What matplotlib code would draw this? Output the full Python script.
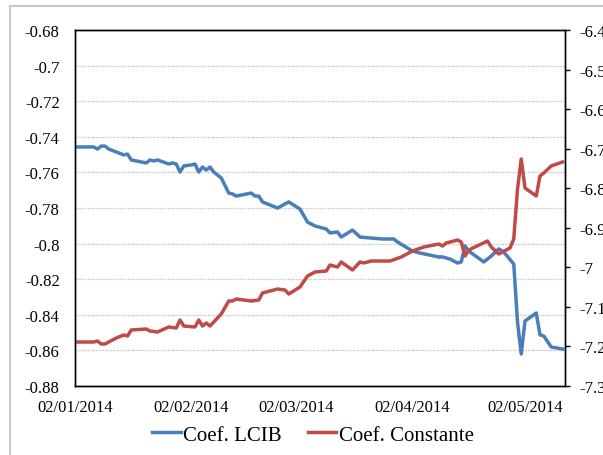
"""Rolling coefficients: LCIB slope (left axis) vs. constant term (right axis)."""
from __future__ import annotations

import numpy as np
import pandas as pd
import matplotlib
matplotlib.use("Agg")
import matplotlib.pyplot as plt  # noqa: E402
import matplotlib.dates as mdates  # noqa: E402
from matplotlib.patches import Rectangle  # noqa: E402
from matplotlib.ticker import MultipleLocator, FuncFormatter  # noqa: E402

# --- LCIB coefficient (left axis) ---
LCIB_DATES = [
    "2014-01-02", "2014-01-07", "2014-01-08", "2014-01-09", "2014-01-10", "2014-01-11",
    "2014-01-13", "2014-01-15", "2014-01-16", "2014-01-17", "2014-01-21", "2014-01-22",
    "2014-01-23", "2014-01-24", "2014-01-27", "2014-01-28", "2014-01-29", "2014-01-30",
    "2014-01-31", "2014-02-02", "2014-02-03", "2014-02-04", "2014-02-05", "2014-02-06",
    "2014-02-07", "2014-02-08", "2014-02-10", "2014-02-12", "2014-02-13", "2014-02-14",
    "2014-02-18", "2014-02-19", "2014-02-20", "2014-02-21", "2014-02-25", "2014-02-26",
    "2014-02-28", "2014-03-03", "2014-03-05", "2014-03-07", "2014-03-10", "2014-03-11",
    "2014-03-13", "2014-03-14", "2014-03-17", "2014-03-19", "2014-03-22", "2014-03-25",
    "2014-03-28", "2014-03-29", "2014-04-02", "2014-04-04", "2014-04-09", "2014-04-10",
    "2014-04-12", "2014-04-14", "2014-04-15", "2014-04-16", "2014-04-17", "2014-04-21",
    "2014-04-23", "2014-04-25", "2014-04-26", "2014-04-27", "2014-04-29", "2014-04-30",
    "2014-05-01", "2014-05-02", "2014-05-05", "2014-05-06", "2014-05-07", "2014-05-09",
    "2014-05-12",
]
LCIB_VALUES = [
    -0.7457, -0.7457, -0.7469, -0.7452, -0.7452, -0.7469,
    -0.7485, -0.7502, -0.7497, -0.7530, -0.7547, -0.7530,
    -0.7536, -0.7530, -0.7553, -0.7547, -0.7553, -0.7598,
    -0.7564, -0.7558, -0.7553, -0.7598, -0.7570, -0.7587,
    -0.7570, -0.7598, -0.7631, -0.7716, -0.7721, -0.7733,
    -0.7716, -0.7733, -0.7733, -0.7766, -0.7800, -0.7789,
    -0.7766, -0.7806, -0.7879, -0.7901, -0.7918, -0.7940,
    -0.7935, -0.7963, -0.7924, -0.7963, -0.7969, -0.7974,
    -0.7974, -0.7991, -0.8042, -0.8053, -0.8075, -0.8075,
    -0.8087, -0.8109, -0.8103, -0.8013, -0.8042, -0.8103,
    -0.8070, -0.8030, -0.8042, -0.8064, -0.8115, -0.8440,
    -0.8620, -0.8435, -0.8390, -0.8513, -0.8519, -0.8581,
    -0.8592,
]

# --- constant term (right axis) ---
CONST_DATES = [
    "2014-01-02", "2014-01-07", "2014-01-08", "2014-01-09", "2014-01-10", "2014-01-11",
    "2014-01-13", "2014-01-15", "2014-01-16", "2014-01-17", "2014-01-21", "2014-01-22",
    "2014-01-24", "2014-01-27", "2014-01-29", "2014-01-30", "2014-01-31", "2014-02-03",
    "2014-02-04", "2014-02-05", "2014-02-06", "2014-02-07", "2014-02-10", "2014-02-12",
    "2014-02-13", "2014-02-14", "2014-02-18", "2014-02-20", "2014-02-21", "2014-02-25",
    "2014-02-27", "2014-02-28", "2014-03-03", "2014-03-05", "2014-03-07", "2014-03-10",
    "2014-03-11", "2014-03-13", "2014-03-14", "2014-03-17", "2014-03-19", "2014-03-20",
    "2014-03-22", "2014-03-24", "2014-03-27", "2014-03-30", "2014-04-02", "2014-04-05",
    "2014-04-09", "2014-04-10", "2014-04-11", "2014-04-14", "2014-04-15", "2014-04-16",
    "2014-04-17", "2014-04-22", "2014-04-23", "2014-04-25", "2014-04-28", "2014-04-29",
    "2014-04-30", "2014-05-01", "2014-05-02", "2014-05-05", "2014-05-06", "2014-05-07",
    "2014-05-09", "2014-05-12",
]
CONST_VALUES = [
    -7.1888, -7.1888, -7.1862, -7.1938, -7.1938, -7.1888,
    -7.1787, -7.1711, -7.1736, -7.1584, -7.1559, -7.1610,
    -7.1635, -7.1508, -7.1534, -7.1331, -7.1483, -7.1508,
    -7.1331, -7.1483, -7.1407, -7.1483, -7.1180, -7.0851,
    -7.0851, -7.0801, -7.0851, -7.0826, -7.0649, -7.0548,
    -7.0573, -7.0674, -7.0497, -7.0219, -7.0118, -7.0093,
    -6.9941, -6.9992, -6.9865, -7.0067, -6.9865, -6.9890,
    -6.9840, -6.9840, -6.9840, -6.9739, -6.9587, -6.9486,
    -6.9410, -6.9461, -6.9385, -6.9309, -6.9360, -6.9714,
    -6.9562, -6.9334, -6.9486, -6.9663, -6.9511, -6.9284,
    -6.8020, -6.7261, -6.7994, -6.8197, -6.7691, -6.7615,
    -6.7438, -6.7337,
]

MONTH_TICKS = ["2014-01-02", "2014-02-02", "2014-03-02", "2014-04-02", "2014-05-02"]

BLUE = "#4a7ebb"
RED = "#be4b48"
W, H = 603, 456


def plain_num(v, _pos):
    return f"{v:g}"


def main() -> None:
    plt.rcParams["font.family"] = ["Liberation Serif", "DejaVu Serif"]
    fig = plt.figure(figsize=(W / 100, H / 100), dpi=100)

    # outer chart-area frame (runs off the right and bottom edges)
    fig.patches.append(Rectangle((10 / W, -0.2), 1.2, 1 - 7 / H + 0.2,
                                 transform=fig.transFigure, fill=False,
                                 edgecolor="#c8c8c8", lw=1.5, zorder=0))

    ax = fig.add_axes([75 / W, 1 - 387 / H, 490 / W, 356 / H])
    ax2 = ax.twinx()

    d_lcib = pd.to_datetime(LCIB_DATES)
    d_const = pd.to_datetime(CONST_DATES)
    l1, = ax.plot(d_lcib, LCIB_VALUES, color=BLUE, lw=2.5, label="Coef. LCIB",
                  solid_joinstyle="round")
    l2, = ax2.plot(d_const, CONST_VALUES, color=RED, lw=2.5, label="Coef. Constante",
                   solid_joinstyle="round")

    ax.set_xlim(pd.Timestamp("2014-01-02"), pd.Timestamp("2014-05-12 16:00"))
    ax.set_ylim(-0.88, -0.68)
    ax.yaxis.set_major_locator(MultipleLocator(0.02))
    ax.yaxis.set_major_formatter(FuncFormatter(plain_num))
    ax2.set_ylim(-7.3, -6.4)
    ax2.yaxis.set_major_locator(MultipleLocator(0.1))
    ax2.yaxis.set_major_formatter(FuncFormatter(plain_num))

    ax.set_xticks(pd.to_datetime(MONTH_TICKS))
    ax.xaxis.set_major_formatter(mdates.DateFormatter("%d/%m/%Y"))

    ax.grid(axis="y", color="#bfbfbf", lw=0.9, ls=(0, (1, 1)))
    ax.set_axisbelow(True)
    ax.tick_params(axis="y", length=0, labelsize=12, pad=11)
    ax.tick_params(axis="x", length=0, labelsize=12, pad=9)
    ax2.tick_params(axis="y", length=3.5, width=1, labelsize=12, pad=7, direction="out")

    for a in (ax, ax2):
        for s in a.spines.values():
            s.set_color("black")
            s.set_linewidth(1.0)

    fig.legend(handles=[l1, l2], loc="center", bbox_to_anchor=(313 / W, 1 - 436 / H),
               ncol=2, frameon=False, fontsize=15, handlelength=1.35,
               handletextpad=0.1, columnspacing=1.3, borderpad=0)

    fig.savefig("out.png", dpi=100)
    plt.close(fig)


if __name__ == "__main__":
    main()
